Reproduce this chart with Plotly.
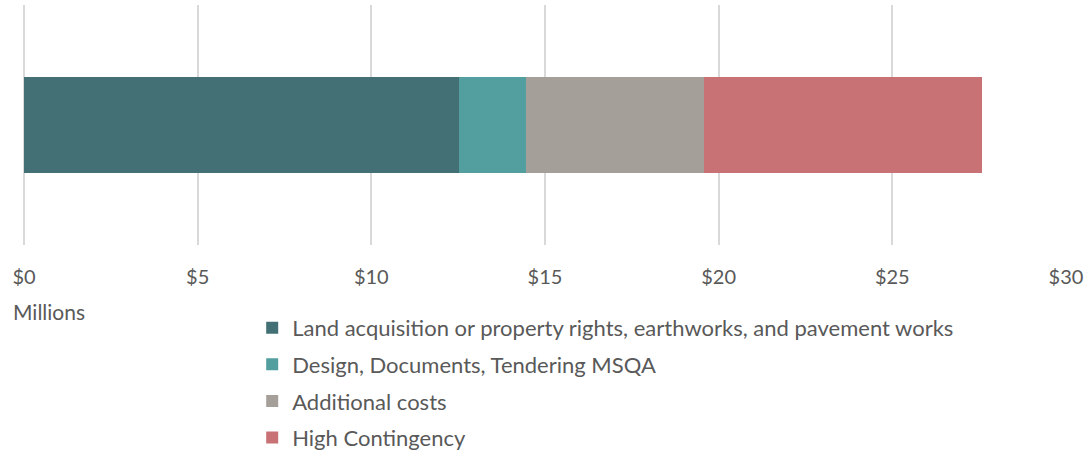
import plotly.graph_objects as go

categories = ["Cost"]
series_names = [
    "Land acquisition or property rights, earthworks, and pavement works",
    "Design, Documents, Tendering MSQA",
    "Additional costs",
    "High Contingency",
]
series_values = [12.53, 1.93, 5.12, 8.01]
colors = ["#437074", "#539F9F", "#A59F9A", "#C97276"]
tick_vals = [0, 5, 10, 15, 20, 25, 30]
tick_text = ["$0", "$5", "$10", "$15", "$20", "$25", "$30"]

FONT = "Lato"
TXT = "#595959"

fig = go.Figure()
for i, (name, val, col) in enumerate(zip(series_names, series_values, colors)):
    fig.add_trace(go.Bar(
        y=categories, x=[val], name=name, orientation="h",
        marker=dict(color=col, line=dict(width=0)),
        legendgroup=f"g{i}", hoverinfo="x+name",
    ))

fig.update_layout(
    barmode="stack",
    bargap=0.6,
    width=1087, height=456,
    margin=dict(l=24, r=21, t=5, b=211, autoexpand=False),
    paper_bgcolor="white", plot_bgcolor="white",
    font=dict(family=FONT, color=TXT, size=20),
    showlegend=True,
    legend=dict(
        x=0.219, y=-0.258, xanchor="left", yanchor="top",
        orientation="v", traceorder="grouped", tracegroupgap=5,
        font=dict(family=FONT, size=22, color=TXT),
        itemwidth=30,
    ),
    xaxis=dict(
        range=[0, 30], tickvals=tick_vals, ticktext=tick_text,
        showgrid=True, gridcolor="#D9D9D9", gridwidth=1.5,
        zeroline=True, zerolinecolor="#D9D9D9", zerolinewidth=1.5,
        showline=False, ticks="", ticklabelstandoff=18,
        tickfont=dict(family=FONT, size=20, color=TXT),
        fixedrange=True, automargin=False,
    ),
    yaxis=dict(range=[-0.5, 0.5], showticklabels=False, showgrid=False,
               zeroline=False, fixedrange=True, automargin=False),
    annotations=[dict(
        text="Millions", xref="paper", yref="paper", x=-0.012, y=-0.215,
        xanchor="left", yanchor="top", showarrow=False,
        font=dict(family=FONT, size=21, color=TXT),
    )],
)

fig.write_html("out.html")
